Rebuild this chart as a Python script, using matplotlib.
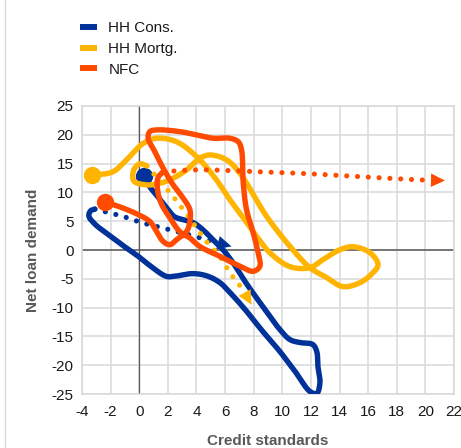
import numpy as np
import matplotlib
matplotlib.use("Agg")
import matplotlib.pyplot as plt
from matplotlib.lines import Line2D
from matplotlib.patches import Polygon

plt.rcParams['font.family'] = ['Liberation Sans', 'DejaVu Sans']
plt.rcParams['axes.unicode_minus'] = False

# ---------------- data ----------------
series_names = ["HH Cons.", "HH Mortg.", "NFC"]
series_colors = ["#003299", "#FFB400", "#FF4B00"]

x_ticks = list(range(-4, 23, 2))
y_ticks = list(range(-25, 26, 5))

# HH Cons. (credit standards, net loan demand) - realised path
cons_x = [0.32, 0.74, 1.30, 1.86, 2.45, 3.00, 3.74, 4.45, 5.15, 5.85, 6.55, 7.45, 8.64, 9.83,
          10.53, 11.23, 12.13, 12.41, 12.49, 12.63, 12.41, 11.93, 10.95, 9.83, 8.64, 7.52,
          6.55, 5.64, 4.73, 3.74, 2.63, 1.93, 0.95, 0.04, -0.87, -2.06, -3.10, -3.52, -3.40, -3.10]
cons_y = [12.84, 10.97, 9.24, 7.50, 5.80, 5.30, 4.80, 3.52, 1.79, 0.05, -2.20, -5.67, -9.83, -13.81,
          -15.55, -16.07, -16.41, -17.64, -20.22, -23.00, -24.90, -24.56, -21.27, -17.62, -14.16, -10.69,
          -7.94, -5.67, -4.50, -4.10, -4.50, -4.60, -3.10, -1.30, 0.30, 2.50, 4.50, 5.90, 6.80, 7.10]
# HH Cons. expected
cons_exp_x = [-3.10, -1.13, 0.27, 1.67, 3.89, 6.45]
cons_exp_y = [7.10, 5.82, 4.68, 3.81, 2.36, 0.62]

# HH Mortg.
mortg_x = [-3.28, -1.85, -0.89, 0.27, 1.21, 2.60, 4.03, 5.29, 6.34, 7.38, 8.22, 9.13, 10.53,
           11.93, 12.84, 14.03, 14.94, 16.13, 16.69, 16.27, 15.43, 14.24, 13.11, 11.93, 10.73,
           8.92, 7.03, 6.10, 4.94, 4.24, 3.31, 2.14, 1.45, 0.53, -0.38, -0.38, 0.04, 0.53]
mortg_y = [12.96, 13.57, 15.65, 18.50, 19.40, 18.80, 16.17, 12.53, 8.72, 5.25, 2.30, -0.47, -2.89,
           -3.07, -1.68, 0.05, 0.57, -0.47, -2.55, -4.11, -5.67, -6.36, -4.80, -3.07, 0.05,
           5.77, 13.35, 15.65, 16.50, 15.94, 13.90, 12.18, 11.60, 11.30, 12.00, 13.90, 14.96, 14.60]
mortg_exp_x = [0.53, 0.97, 2.37, 3.75, 4.59, 5.64, 6.33, 7.24, 7.85]
mortg_exp_y = [14.60, 13.35, 9.29, 4.73, 1.79, -1.16, -3.93, -6.88, -9.50]

# NFC
nfc_x = [-2.41, -1.36, -0.20, 0.74, 1.21, 1.67, 2.14, 2.61, 3.31, 3.54, 3.54, 3.07, 2.37, 1.67,
         1.09, 0.62, 0.74, 1.21, 2.84, 4.00, 5.17, 6.34, 6.92, 7.15, 7.27, 7.50, 7.97, 8.31,
         8.43, 7.97, 7.27, 5.64, 4.24, 3.54, 2.84, 2.14, 1.58, 1.30, 1.30, 1.67]
nfc_y = [8.37, 7.50, 6.30, 4.96, 3.22, 1.49, 0.92, 1.79, 3.22, 4.96, 7.00, 9.01, 11.32, 14.21,
         17.09, 19.40, 20.55, 20.85, 20.55, 19.98, 19.40, 19.40, 18.80, 17.40, 11.60, 7.00, 2.95, -0.50,
         -2.84, -3.70, -3.10, -1.10, 0.60, 2.08, 3.17, 5.60, 7.85, 10.10, 12.50, 13.60]
nfc_exp_x = [1.67, 4.17, 7.87, 11.51, 15.22, 19.55, 21.37]
nfc_exp_y = [13.60, 13.92, 13.62, 13.28, 12.76, 12.18, 12.06]

paths = [
    (cons_x, cons_y, cons_exp_x, cons_exp_y),
    (mortg_x, mortg_y, mortg_exp_x, mortg_exp_y),
    (nfc_x, nfc_y, nfc_exp_x, nfc_exp_y),
]

# ---------------- figure ----------------
W, H = 461, 448
fig = plt.figure(figsize=(W / 100, H / 100), dpi=100)
ax = fig.add_axes([82 / W, 1 - 394 / H, (454 - 82) / W, (394 - 106) / H])
ax.set_xlim(-4, 22)
ax.set_ylim(-25, 25)
ax.set_xticks(x_ticks)
ax.set_yticks(y_ticks)
ax.grid(True, color="#d9d9d9", lw=1.1)
ax.set_axisbelow(True)
ax.tick_params(length=0, labelsize=11, labelcolor="#1a1a1a")
ax.tick_params(axis="x", pad=8)
ax.tick_params(axis="y", pad=6)
for s in ax.spines.values():
    s.set_color("#d9d9d9")
    s.set_linewidth(1.1)
ax.axhline(0, color="#595959", lw=1.1, zorder=1.5)
ax.axvline(0, color="#595959", lw=0.9, zorder=1.5)


def catmull(ax, xs, ys, n=24):
    pts = ax.transData.transform(np.column_stack([xs, ys]))
    P = np.vstack([2 * pts[0] - pts[1], pts, 2 * pts[-1] - pts[-2]])
    out = []
    for i in range(1, len(P) - 2):
        p0, p1, p2, p3 = P[i - 1], P[i], P[i + 1], P[i + 2]
        t0 = 0.0
        t1 = t0 + max(np.linalg.norm(p1 - p0), 1e-6) ** 0.5
        t2 = t1 + max(np.linalg.norm(p2 - p1), 1e-6) ** 0.5
        t3 = t2 + max(np.linalg.norm(p3 - p2), 1e-6) ** 0.5
        for t in np.linspace(t1, t2, n, endpoint=False):
            A1 = (t1 - t) / (t1 - t0) * p0 + (t - t0) / (t1 - t0) * p1
            A2 = (t2 - t) / (t2 - t1) * p1 + (t - t1) / (t2 - t1) * p2
            A3 = (t3 - t) / (t3 - t2) * p2 + (t - t2) / (t3 - t2) * p3
            B1 = (t2 - t) / (t2 - t0) * A1 + (t - t0) / (t2 - t0) * A2
            B2 = (t3 - t) / (t3 - t1) * A2 + (t - t1) / (t3 - t1) * A3
            C = (t2 - t) / (t2 - t1) * B1 + (t - t1) / (t2 - t1) * B2
            out.append(C)
    out.append(pts[-1])
    return np.array(out)


inv = ax.transData.inverted()
LW = 3.9
ARROW_L, ARROW_W = 14.0, 13.5

for k, (sx, sy, ex, ey) in enumerate(paths):
    c = series_colors[k]
    z = 3 + k
    # realised path
    d = inv.transform(catmull(ax, sx, sy))
    ax.plot(d[:, 0], d[:, 1], color=c, lw=LW, solid_capstyle="round",
            solid_joinstyle="round", zorder=z)
    # expected path (dotted) with arrow head
    dp = catmull(ax, ex, ey)
    tip = dp[-1]
    dist = np.linalg.norm(dp - tip, axis=1)
    idx = np.where(dist >= ARROW_L)[0][-1]
    u = (tip - dp[idx]) / np.linalg.norm(tip - dp[idx])
    base = tip - ARROW_L * u
    perp = np.array([-u[1], u[0]])
    tri = np.array([tip, base + perp * ARROW_W / 2, base - perp * ARROW_W / 2])
    keep = dp[dist >= ARROW_L * 0.9]
    dd = inv.transform(keep)
    ax.plot(dd[:, 0], dd[:, 1], color=c, lw=LW * 0.95, linestyle=(0, (0.001, 2.1)),
            dash_capstyle="round", zorder=z)
    ax.add_patch(Polygon(inv.transform(tri), closed=True, facecolor=c,
                         edgecolor="none", zorder=z))
    # start marker
    ax.plot([sx[0]], [sy[0]], "o", color=c, ms=12.5, mec="none", zorder=z)

# legend
handles = [Line2D([], [], color=c, lw=4.3, solid_capstyle="butt") for c in series_colors]
leg = fig.legend(handles, series_names, loc="upper left",
                 bbox_to_anchor=(80 / W, 1 - 21 / H), frameon=False, fontsize=11,
                 handlelength=1.1, handletextpad=0.75, labelspacing=0.45,
                 borderpad=0, borderaxespad=0)
for t in leg.get_texts():
    t.set_color("#1a1a1a")

fig.text(268 / W, 1 - 441 / H, "Credit standards", ha="center", va="center",
         fontsize=11, fontweight="bold", color="#595959")
fig.text(33 / W, 1 - 250 / H, "Net loan demand", ha="center", va="center",
         rotation=90, fontsize=11, fontweight="bold", color="#595959")

fig.add_artist(Line2D([5 / W, 5 / W], [0, 1], transform=fig.transFigure,
                      color="#d9d9d9", lw=1))

fig.savefig("out.png", dpi=100)
